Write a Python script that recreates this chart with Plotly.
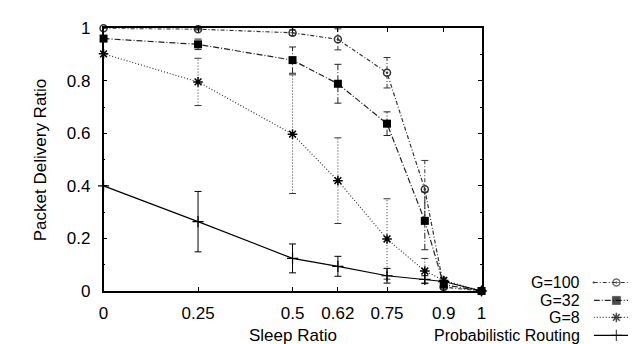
import plotly.graph_objects as go

# ---- data ----
sleep_ratio = [0, 0.25, 0.5, 0.62, 0.75, 0.85, 0.9, 1]
g100 = [1.0, 0.997, 0.983, 0.958, 0.831, 0.387, 0.015, 0.0]
g100_err = [0, 0.003, 0.01, 0.04, 0.058, 0.11, 0.01, 0]
g32 = [0.961, 0.939, 0.879, 0.789, 0.637, 0.267, 0.024, 0.0]
g32_err = [0, 0.02, 0.05, 0.074, 0.045, 0.11, 0.01, 0]
g8 = [0.903, 0.796, 0.597, 0.42, 0.198, 0.076, 0.04, 0.0]
g8_err = [0, 0.09, 0.226, 0.163, 0.153, 0.048, 0.01, 0]
prob = [0.4, 0.264, 0.124, 0.094, 0.058, 0.044, 0.036, 0.0]
prob_err = [0, 0.115, 0.055, 0.038, 0.028, 0.014, 0.005, 0]

x_tickvals = [0, 0.25, 0.5, 0.62, 0.75, 0.9, 1]
x_ticktext = ["0", "0.25", "0.5", "0.62", "0.75", "0.9", "1"]
y_tickvals = [0, 0.2, 0.4, 0.6, 0.8, 1]
y_ticktext = ["0", "0.2", "0.4", "0.6", "0.8", "1"]

series_names = ["G=100", "G=32", "G=8", "Probabilistic Routing"]

# ---- styling ----
W, H = 636, 344
PL, PR, PT, PB = 92, 476, 12, 290  # plot area in pixels
FONT = "Liberation Sans, Arial, sans-serif"
FS = 17

styles = [
    dict(color="#333333", dash="4px,2px,1px,2px", symbol="circle-open-dot", msize=7, mline=1.5, mcolor="#333333"),
    dict(color="#222222", dash="6px,2px,1px,2px", symbol="square", msize=8, mline=0, mcolor="#000000"),
    dict(color="#333333", dash="1px,2px", symbol="asterisk-open", msize=8, mline=1.5, mcolor="#000000"),
    dict(color="#000000", dash="solid", symbol="cross-thin-open", msize=8, mline=1.2, mcolor="#000000"),
]
values = [g100, g32, g8, prob]
errors = [g100_err, g32_err, g8_err, prob_err]

fig = go.Figure()

for name, yv, ev, st in zip(series_names, values, errors, styles):
    # error bar stems
    ex, ey, cx, cy = [], [], [], []
    for xi, yi, ei in zip(sleep_ratio, yv, ev):
        if ei > 0:
            ex += [xi, xi, None]
            ey += [yi - ei, yi + ei, None]
            cx += [xi, xi]
            cy += [yi - ei, yi + ei]
    fig.add_trace(go.Scatter(x=ex, y=ey, mode="lines", showlegend=False,
                             line=dict(color=st["color"], width=1, dash=st["dash"]),
                             hoverinfo="skip", cliponaxis=False))
    fig.add_trace(go.Scatter(x=cx, y=cy, mode="markers", showlegend=False,
                             marker=dict(symbol="line-ew-open", size=5, color=st["color"],
                                         line=dict(color=st["color"], width=1)),
                             hoverinfo="skip", cliponaxis=False))
    # main line
    marker = dict(symbol=st["symbol"], size=st["msize"], color=st["mcolor"])
    if st["mline"]:
        marker["line"] = dict(color=st["mcolor"], width=st["mline"])
    fig.add_trace(go.Scatter(x=sleep_ratio, y=yv, mode="lines+markers", name=name,
                             showlegend=False, cliponaxis=False,
                             line=dict(color=st["color"], width=1.2, dash=st["dash"]),
                             marker=marker))

# ---- custom legend (text right, sample left-to-right on the right) ----
legend_rows = [281, 300, 318, 337]
for name, row, st in zip(series_names, legend_rows, styles):
    marker = dict(symbol=st["symbol"], size=st["msize"], color=st["mcolor"])
    if st["mline"]:
        marker["line"] = dict(color=st["mcolor"], width=st["mline"])
    fig.add_trace(go.Scatter(x=[0, 0.5, 1], y=[row, row, row], mode="lines+markers",
                             xaxis="x2", yaxis="y2", showlegend=False, cliponaxis=False,
                             line=dict(color=st["color"], width=1.2, dash=st["dash"]),
                             marker=dict(marker, size=[0, st["msize"], 0]),
                             hoverinfo="skip"))
    fig.add_annotation(text=name, xref="paper", yref="paper",
                       x=578 / W, y=1 - row / H, xanchor="right", yanchor="middle",
                       showarrow=False, font=dict(family=FONT, size=16, color="#000"))

axis_common = dict(showline=True, linecolor="#000", linewidth=1.5, mirror="ticks",
                   ticks="inside", ticklen=4, tickcolor="#000", tickwidth=1,
                   showgrid=False, zeroline=False,
                   tickfont=dict(family=FONT, size=FS, color="#000"))

fig.update_layout(
    width=W, height=H,
    margin=dict(l=0, r=0, t=0, b=0),
    paper_bgcolor="white", plot_bgcolor="white",
    showlegend=False,
    xaxis=dict(axis_common, domain=[PL / W, PR / W], range=[0, 1],
               tickvals=x_tickvals, ticktext=x_ticktext, ticklabelstandoff=6),
    yaxis=dict(axis_common, domain=[1 - PB / H, 1 - PT / H], range=[0, 1],
               tickvals=y_tickvals, ticktext=y_ticktext, ticklabelstandoff=8,
               minor=dict(dtick=0.1, ticks="inside", ticklen=2, tickcolor="#000")),
    xaxis2=dict(domain=[590 / W, 1], range=[0, 1], visible=False, anchor="y2"),
    yaxis2=dict(domain=[0, 1 - 268 / H], range=[H, 268], visible=False, anchor="x2"),
)

fig.add_annotation(text="Sleep Ratio", xref="paper", yref="paper",
                   x=(PL + PR) / 2 / W, y=1 - 337 / H, xanchor="center", yanchor="middle",
                   showarrow=False, font=dict(family=FONT, size=FS, color="#000"))
fig.add_annotation(text="Packet Delivery Ratio", xref="paper", yref="paper",
                   x=28 / W, y=1 - 151 / H, xanchor="center", yanchor="middle",
                   textangle=-90, showarrow=False,
                   font=dict(family=FONT, size=FS, color="#000"))

fig.write_html("out.html")
